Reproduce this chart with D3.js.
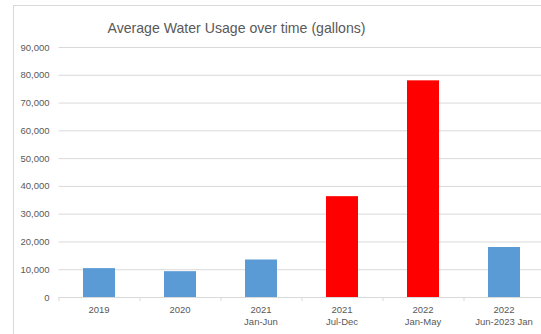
<!DOCTYPE html>
<html>
<head>
<meta charset="utf-8">
<script src="https://cdn.jsdelivr.net/npm/d3@7"></script>
<style>
  html, body { margin: 0; padding: 0; background: #fff; }
  svg { display: block; }
  text { font-family: "Liberation Sans", Arial, sans-serif; fill: #595959; }
</style>
</head>
<body>
<svg id="chart" width="541" height="334"></svg>
<script>
const categories = ["2019", "2020", "2021\nJan-Jun", "2021\nJul-Dec", "2022\nJan-May", "2022\nJun-2023 Jan"];
const values = [10400, 9300, 13500, 36300, 78000, 18000];
const highlight = [false, false, false, true, true, false];
const yTicks = [0, 10000, 20000, 30000, 40000, 50000, 60000, 70000, 80000, 90000];
const title = "Average Water Usage over time (gallons)";

const svg = d3.select("#chart");
const W = 541, H = 334;

// chart border (cropped: only top and left visible)
svg.append("rect")
  .attr("x", 13.5).attr("y", 5.5)
  .attr("width", 600).attr("height", 400)
  .attr("fill", "#fff")
  .attr("stroke", "#D9D9D9").attr("stroke-width", 1);

const plotLeft = 58.5, bandW = 81, plotRight = plotLeft + bandW * categories.length;
const x = d3.scaleBand().domain(categories).range([plotLeft, plotRight]).padding(0);
const y = d3.scaleLinear().domain([0, 90000]).range([297, 47]);

// gridlines
const yAxis = d3.axisLeft(y).tickValues(yTicks).tickSize(-(plotRight - plotLeft)).tickPadding(9)
  .tickFormat(d3.format(","));
const gy = svg.append("g").attr("transform", `translate(${plotLeft},0)`).call(yAxis);
gy.select(".domain").remove();
gy.selectAll(".tick line").attr("stroke", "#D9D9D9").attr("stroke-width", 1);
gy.selectAll(".tick text").attr("font-size", 9.5).attr("fill", "#595959")
  .style("font-family", "Liberation Sans, Arial, sans-serif");

// bars
const barW = 32;
svg.append("g").selectAll("rect").data(categories).join("rect")
  .attr("x", d => x(d) + (x.bandwidth() - barW) / 2)
  .attr("y", (d, i) => y(values[i]))
  .attr("width", barW)
  .attr("height", (d, i) => y(0) - y(values[i]))
  .attr("fill", (d, i) => highlight[i] ? "#FF0000" : "#5B9BD5");

// x axis
const xAxis = d3.axisBottom(x).tickSize(0).tickFormat("");
const gx = svg.append("g").attr("transform", `translate(0,${y(0)})`).call(xAxis);
gx.select(".domain").attr("stroke", "#D9D9D9");
// boundary ticks
const bounds = categories.map(c => x(c)).concat([plotRight]);
gx.selectAll(".btick").data(bounds).join("line")
  .attr("x1", d => d + 0.5).attr("x2", d => d + 0.5)
  .attr("y1", 0).attr("y2", 4)
  .attr("stroke", "#D9D9D9");

// x labels
const lab = svg.append("g");
categories.forEach(c => {
  const lines = c.split("\n");
  const t = lab.append("text")
    .attr("x", x(c) + x.bandwidth() / 2)
    .attr("y", 313)
    .attr("text-anchor", "middle")
    .attr("font-size", 9.5);
  lines.forEach((l, i) => {
    t.append("tspan").attr("x", x(c) + x.bandwidth() / 2).attr("dy", i === 0 ? 0 : 12).text(l);
  });
});

// title
svg.append("text")
  .attr("x", 107.5).attr("y", 33.3)
  .attr("font-size", 15)
  .attr("textLength", 258)
  .attr("lengthAdjust", "spacingAndGlyphs")
  .text(title);
</script>
</body>
</html>
